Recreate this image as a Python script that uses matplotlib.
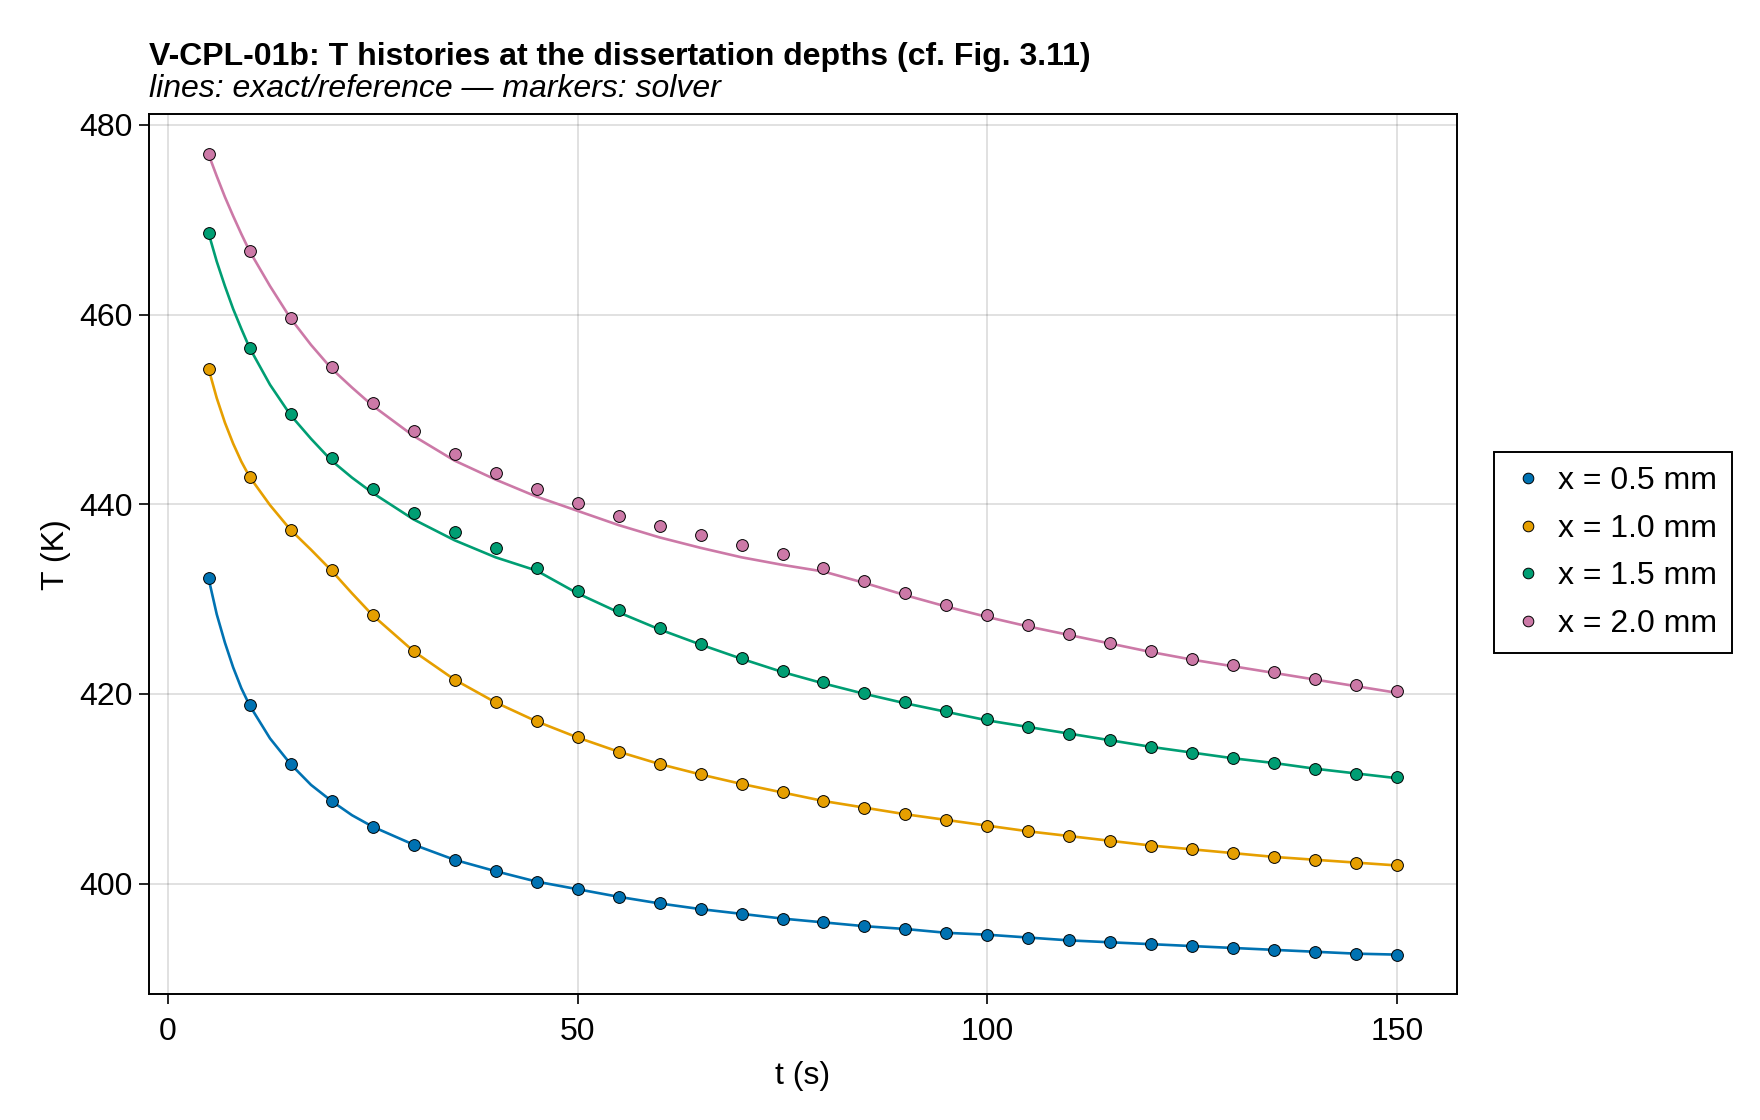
import matplotlib
matplotlib.use("Agg")
import matplotlib.pyplot as plt

plt.rcParams['font.family'] = ['Liberation Sans', 'DejaVu Sans']

# solver output (markers), every 5 s
t_solver = [5, 10, 15, 20, 25, 30, 35, 40, 45, 50, 55, 60, 65, 70, 75,
            80, 85, 90, 95, 100, 105, 110, 115, 120, 125, 130, 135, 140, 145, 150]

T_05_solver = [432.2, 418.8, 412.6, 408.7, 406.0, 404.1, 402.5, 401.3, 400.2, 399.4,
               398.6, 397.9, 397.3, 396.8, 396.3, 395.9, 395.5, 395.2, 394.8, 394.6,
               394.3, 394.0, 393.8, 393.6, 393.4, 393.2, 393.0, 392.8, 392.6, 392.5]
T_10_solver = [454.3, 442.9, 437.3, 433.1, 428.3, 424.5, 421.5, 419.1, 417.1, 415.4,
               413.9, 412.6, 411.5, 410.5, 409.6, 408.7, 408.0, 407.3, 406.7, 406.1,
               405.5, 405.0, 404.5, 404.0, 403.6, 403.2, 402.8, 402.5, 402.2, 401.9]
T_15_solver = [468.6, 456.5, 449.5, 444.9, 441.6, 439.1, 437.1, 435.4, 433.3, 430.8,
               428.8, 426.9, 425.3, 423.8, 422.4, 421.2, 420.1, 419.1, 418.2, 417.3,
               416.5, 415.8, 415.1, 414.4, 413.8, 413.2, 412.7, 412.1, 411.6, 411.2]
T_20_solver = [476.9, 466.7, 459.6, 454.5, 450.7, 447.7, 445.3, 443.3, 441.6, 440.1,
               438.8, 437.7, 436.7, 435.7, 434.7, 433.3, 431.9, 430.6, 429.4, 428.3,
               427.3, 426.3, 425.4, 424.5, 423.7, 423.0, 422.3, 421.6, 420.9, 420.3]

# exact / reference curves (finer near the start)
t_ref = [5, 6, 7, 8, 9, 10, 12.5, 15, 17.5, 20, 22.5, 25, 30, 35, 40, 45, 50, 55, 60,
         65, 70, 75, 80, 85, 90, 95, 100, 105, 110, 115, 120, 125, 130, 135, 140, 145, 150]

T_05_ref = [432.2, 428.4, 425.4, 422.8, 420.6, 418.8, 415.3, 412.6, 410.4, 408.7, 407.2,
            406.0, 404.1, 402.5, 401.3, 400.2, 399.4, 398.6, 397.9, 397.3, 396.8, 396.3,
            395.9, 395.5, 395.2, 394.8, 394.6, 394.3, 394.0, 393.8, 393.6, 393.4, 393.2,
            393.0, 392.8, 392.6, 392.5]
T_10_ref = [454.3, 451.2, 448.6, 446.4, 444.5, 442.9, 439.9, 437.3, 435.2, 433.0, 430.6,
            428.3, 424.5, 421.5, 419.1, 417.1, 415.4, 413.9, 412.6, 411.5, 410.5, 409.6,
            408.7, 408.0, 407.3, 406.7, 406.1, 405.5, 405.0, 404.5, 404.0, 403.6, 403.2,
            402.8, 402.5, 402.2, 401.9]
T_15_ref = [468.6, 465.6, 463.0, 460.6, 458.5, 456.5, 452.6, 449.4, 446.9, 444.6, 442.8,
            441.2, 438.4, 436.2, 434.4, 433.0, 430.6, 428.6, 426.8, 425.2, 423.7, 422.3,
            421.1, 420.0, 419.0, 418.1, 417.2, 416.5, 415.8, 415.1, 414.4, 413.8, 413.2,
            412.7, 412.1, 411.6, 411.1]
T_20_ref = [476.9, 474.6, 472.4, 470.4, 468.5, 466.7, 463.0, 459.6, 456.8, 454.3, 452.3,
            450.4, 447.2, 444.6, 442.6, 440.8, 439.3, 437.8, 436.5, 435.4, 434.4, 433.6,
            432.9, 431.7, 430.4, 429.2, 428.1, 427.1, 426.2, 425.3, 424.4, 423.6, 422.9,
            422.2, 421.5, 420.8, 420.1]

labels = ["x = 0.5 mm", "x = 1.0 mm", "x = 1.5 mm", "x = 2.0 mm"]
colors = ["#0072B2", "#E69F00", "#009E73", "#CC79A7"]

fig = plt.figure(figsize=(17.6, 11.2), dpi=100)
ax = fig.add_axes([0.0847, 0.1121, 0.7431, 0.7857])

refs = [T_05_ref, T_10_ref, T_15_ref, T_20_ref]
sols = [T_05_solver, T_10_solver, T_15_solver, T_20_solver]
for ref, sol, lab, c in zip(refs, sols, labels, colors):
    ax.plot(t_ref, ref, color=c, lw=1.9, zorder=2)
    ax.plot(t_solver, sol, 'o', ms=8.5, mfc=c, mec='black', mew=0.7,
            label=lab, zorder=3)

ax.set_xlim(-2.25, 157.25)
ax.set_ylim(388.3, 481.1)
ax.set_xticks([0, 50, 100, 150])
ax.set_yticks([400, 420, 440, 460, 480])
ax.grid(True, color='black', alpha=0.12, lw=1.4)
ax.set_axisbelow(True)
for s in ax.spines.values():
    s.set_linewidth(1.4)
ax.tick_params(direction='out', length=7, width=1.2, labelsize=23, pad=5)
ax.tick_params(axis='x', pad=9)

ax.set_xlabel("t (s)", fontsize=23, labelpad=10)
ax.set_ylabel("T (K)", fontsize=23, labelpad=6)

fig.text(0.0847, 1 - 65 / 1120, "V-CPL-01b: T histories at the dissertation depths (cf. Fig. 3.11)",
         fontsize=23, fontweight='bold', va='baseline', ha='left')
fig.text(0.0847, 1 - 97 / 1120, "lines: exact/reference \u2014 markers: solver",
         fontsize=23, style='italic', va='baseline', ha='left')

leg = fig.legend(loc='center left', bbox_to_anchor=(0.849, 0.5067), fontsize=23,
                 frameon=True, fancybox=False, edgecolor='black', framealpha=1,
                 markerscale=0.9, handletextpad=0.35, labelspacing=0.55,
                 borderpad=0.45, handlelength=1.2, borderaxespad=0)
leg.get_frame().set_linewidth(1.4)

fig.savefig("out.png", dpi=100)
